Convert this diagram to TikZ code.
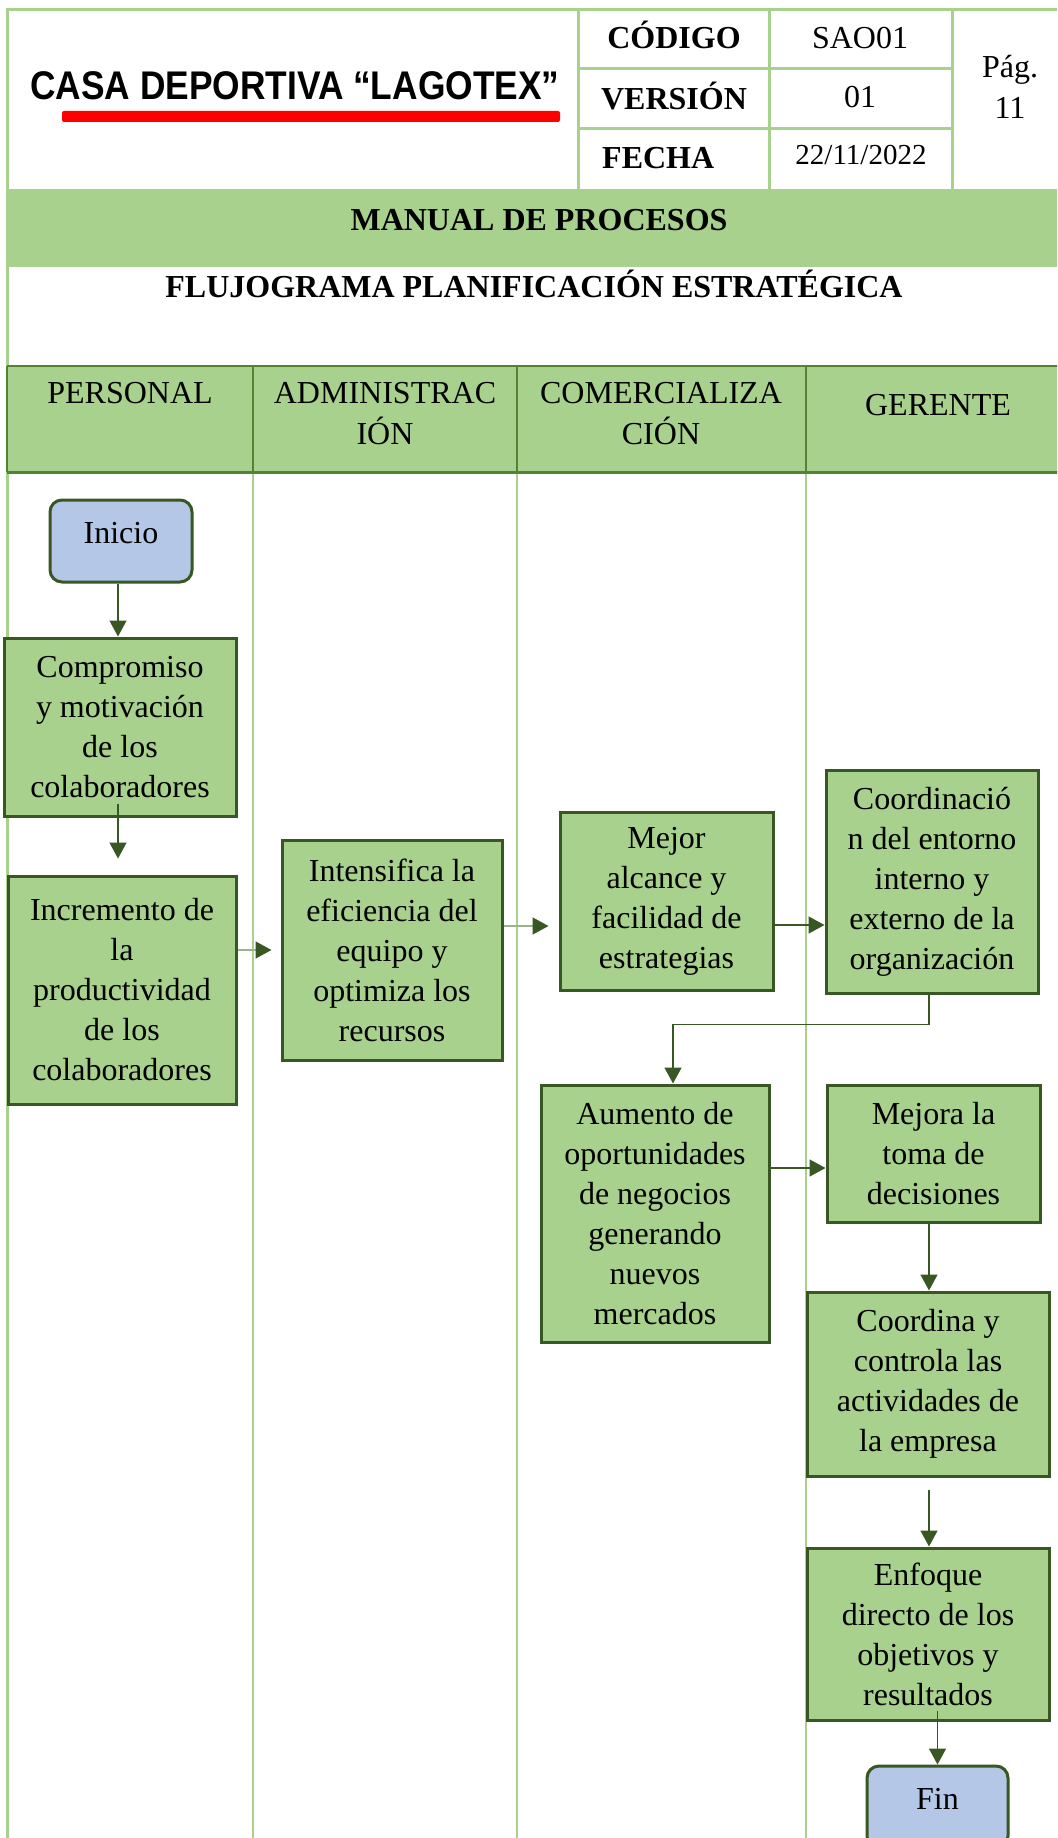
\documentclass[tikz,border=0pt]{standalone}
\usepackage{fontspec}
\setmainfont{Liberation Serif}
\newfontfamily\headsans[FakeStretch=0.883]{Liberation Sans}
\usetikzlibrary{arrows.meta}
\definecolor{boxgreen}{HTML}{A9D18E}
\definecolor{darkgreen}{HTML}{385723}
\definecolor{midgreen}{HTML}{548235}
\definecolor{lightline}{HTML}{A9D18E}
\definecolor{startblue}{HTML}{B4C7E7}
\definecolor{greyline}{HTML}{9DB38F}
\begin{document}
\begin{tikzpicture}[x=1pt,y=-1pt,
  proc/.style={draw=darkgreen, line width=3pt, fill=boxgreen, align=center, inner sep=0pt, font=\fontsize{32}{40}\selectfont},
  term/.style={draw=darkgreen, line width=3pt, fill=startblue, rounded corners=12pt, inner sep=0pt, font=\fontsize{32}{40}\selectfont},
  flow/.style={draw=darkgreen, line width=1.5pt, -{Triangle[length=16pt,width=17pt]}},
  flowlight/.style={draw=greyline, line width=1.6pt, -{Triangle[length=16pt,width=17pt,color=darkgreen]}},
  hdrbold/.style={font=\fontsize{32}{40}\selectfont\bfseries, inner sep=0pt},
  hdrreg/.style={font=\fontsize{32}{41}\selectfont, inner sep=0pt, align=center},
  tableline/.style={draw=lightline, line width=3pt},
  laneline/.style={draw=lightline, line width=1.5pt},
  laneedge/.style={draw=midgreen, line width=2.5pt}
]
\useasboundingbox (0,0) rectangle (1057,1838);
\clip (0,0) rectangle (1057,1838);
\fill[white] (0,0) rectangle (1057,1838);

% ---------- header table ----------
\fill[boxgreen] (7,191) rectangle (1075,267);
\draw[tableline] (1075,10) -- (7,10) -- (7,366);
\draw[tableline] (7,191) -- (1075,191);
\draw[tableline] (578,10) -- (578,191);
\draw[tableline] (769,10) -- (769,191);
\draw[tableline] (952,10) -- (952,191);
\draw[tableline] (578,69) -- (952,69);
\draw[tableline] (578,129) -- (952,129);

\node[anchor=base west, inner sep=0pt, font=\headsans\fontsize{40}{44}\selectfont\bfseries] (company) at (30,100) {CASA DEPORTIVA “LAGOTEX”};
\fill[red, rounded corners=2pt] (62,111) rectangle (560,122);

\node[hdrbold, anchor=base] (codigo) at (674,49) {CÓDIGO};
\node[hdrreg, anchor=base] (codval) at (860,49) {SAO01};
\node[hdrbold, anchor=base] (version) at (674,110) {VERSIÓN};
\node[hdrreg, anchor=base] (verval) at (860,108) {01};
\node[hdrbold, anchor=base west] (fecha) at (602,169) {FECHA};
\node[inner sep=0pt, font=\fontsize{29}{34}\selectfont, anchor=base] (fechaval) at (861,165) {22/11/2022};
\node[hdrreg] (pag) at (1010,87) {Pág.\\11};

\node[hdrbold, anchor=base] (manual) at (539,230) {MANUAL DE PROCESOS};
\node[hdrbold, anchor=base] (title) at (534,297) {FLUJOGRAMA PLANIFICACIÓN ESTRATÉGICA};

% ---------- lane header ----------
\fill[boxgreen] (7,366) rectangle (1075,472);
\draw[laneline] (253,472) -- (253,1838);
\draw[laneline] (517,472) -- (517,1838);
\draw[laneline] (806,472) -- (806,1838);
\draw[tableline] (7,472) -- (7,1838);
\draw[laneedge] (7,366) -- (1075,366);
\draw[midgreen, line width=3pt] (7,472) -- (1075,472);
\draw[laneedge] (7,366) -- (7,472);
\draw[laneedge] (253,366) -- (253,472);
\draw[laneedge] (517,366) -- (517,472);
\draw[laneedge] (806,366) -- (806,472);

\node[hdrreg, anchor=base] (lp) at (130,403) {PERSONAL};
\node[hdrreg] (la) at (385,414) {ADMINISTRAC\\IÓN};
\node[hdrreg] (lc) at (661,414) {COMERCIALIZA\\CIÓN};
\node[hdrreg, anchor=base] (lg) at (938,415) {GERENTE};

% ---------- process nodes ----------
\node[term, minimum width=142pt, minimum height=82pt] (ini) at (121,541) {\raisebox{16pt}{Inicio}};
\node[proc, minimum width=232pt, minimum height=178pt] (comp) at (120,727) {Compromiso\\y motivación\\de los\\colaboradores};
\node[proc, minimum width=228pt, minimum height=228pt] (incr) at (122,990) {Incremento de\\la\\productividad\\de los\\colaboradores};
\node[proc, minimum width=220pt, minimum height=220pt] (intens) at (392,950) {Intensifica la\\eficiencia del\\equipo y\\optimiza los\\recursos};
\node[proc, minimum width=213pt, minimum height=178pt] (mejor) at (666.5,901) {Mejor\\alcance y\\facilidad de\\estrategias};
\node[proc, minimum width=212pt, minimum height=223pt] (coord) at (932,881.5) {Coordinació\\n del entorno\\interno y\\externo de la\\organización};
\node[proc, minimum width=228pt, minimum height=257pt] (aum) at (655,1213.5) {Aumento de\\oportunidades\\de negocios\\generando\\nuevos\\mercados};
\node[proc, minimum width=213pt, minimum height=137pt] (mejora) at (933.5,1153.5) {Mejora la\\toma de\\decisiones};
\node[proc, minimum width=242pt, minimum height=184pt] (coordina) at (928,1384) {Coordina y\\controla las\\actividades de\\la empresa};
\node[proc, minimum width=242pt, minimum height=172pt] (enfoque) at (928,1634) {Enfoque\\directo de los\\objetivos y\\resultados};
\node[term, minimum width=141pt, minimum height=82pt] (fin) at (937.5,1807) {\raisebox{16pt}{Fin}};

% ---------- connectors ----------
\draw[flow] (ini.south -| comp.north) ++(-2pt,0) -- ([xshift=-2pt]comp.north);
\draw[flow, shorten >=16pt] ([xshift=-2pt,yshift=14pt]comp.south) -- ([xshift=-2pt]comp.south |- incr.north);
\draw[flowlight, shorten >=9pt] (intens.west -| incr.east) -- (intens.west);
\draw[flowlight, shorten >=10pt] ([yshift=24pt]intens.east) -- ([yshift=24pt]intens.east -| mejor.west);
\draw[flow] ([yshift=-24pt]mejor.east) -- ([yshift=-24pt]mejor.east -| coord.west);
\draw[flow] ([xshift=-3pt]coord.south) -- ++(0,30) -| ([xshift=18pt]aum.north);
\draw[flow] ([yshift=-14.5pt]mejora.west -| aum.east) -- ([yshift=-14.5pt]mejora.west);
\draw[flow] ([xshift=1pt]coordina.north |- mejora.south) -- ([xshift=1pt]coordina.north);
\draw[flow] ([xshift=1pt,yshift=-12pt]coordina.south) -- ([xshift=1pt]enfoque.north);
\draw[flow] ([yshift=11pt]enfoque.south -| fin.north) -- (fin.north);
\end{tikzpicture}
\end{document}
